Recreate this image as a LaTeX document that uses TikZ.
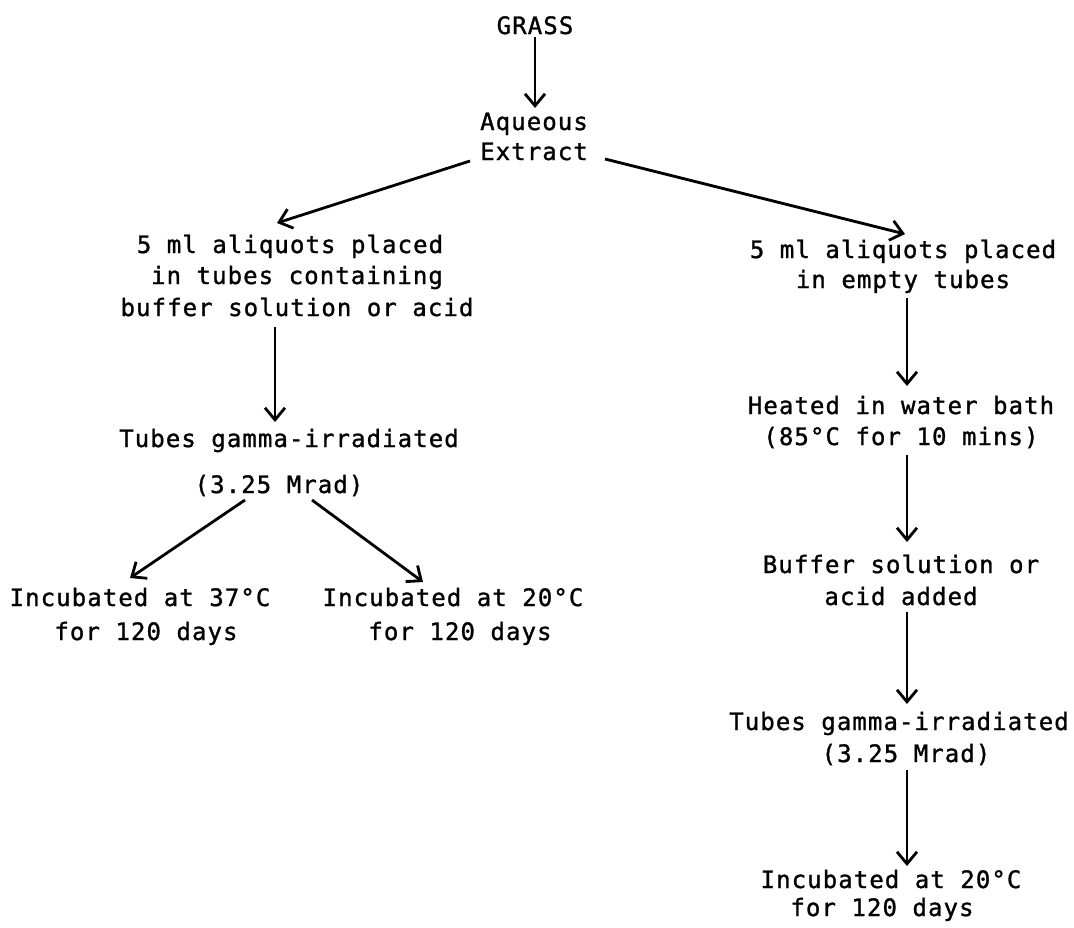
\documentclass[tikz,border=0pt]{standalone}
\usepackage{fontspec}
\newfontfamily\tw{DejaVu Sans Mono}[LetterSpace=4.5,FakeBold=1.2]
\usetikzlibrary{arrows.meta,calc}
\newcommand\tb[1]{\begin{tabular}[t]{@{}c@{}}#1\end{tabular}}
\begin{document}
\begin{tikzpicture}[x=1pt,y=-1pt,
  lbl/.style={anchor=base,inner sep=0pt,font=\tw\fontsize{24}{31}\selectfont},
  arr/.style={-{Straight Barb[length=12pt,width=20pt]},line width=2.8pt}]
\useasboundingbox[fill=white] (0,0) rectangle (1074,927);

\node[lbl] (grass) at (535,34) {\tb{GRASS}};
\node[lbl] (aq) at (534,130) {\tb{Aqueous\\[-1pt]Extract}};
\node[lbl] (L1) at (297,253) {\tb{5 ml aliquots placed\hspace*{14pt}\\in tubes containing\\[1pt]buffer solution or acid}};
\node[lbl] (R1) at (903,258) {\tb{5 ml aliquots placed\\[-1pt]in empty tubes}};
\node[lbl] (L2) at (289,447) {\tb{Tubes gamma-irradiated\\[15pt](3.25 Mrad)\hspace*{20pt}}};
\node[lbl] (L3) at (140,606) {\tb{Incubated at 37°C\\[3pt]\hspace*{12pt}for 120 days}};
\node[lbl] (L4) at (453,606) {\tb{Incubated at 20°C\\[3pt]\hspace*{14pt}for 120 days}};
\node[lbl] (R2) at (901,414) {\tb{Heated in water bath\\(85°C for 10 mins)}};
\node[lbl] (R3) at (901,573) {\tb{Buffer solution or\\[1pt]acid added}};
\node[lbl] (R4) at (899,730) {\tb{Tubes gamma-irradiated\\[1pt]\hspace*{14pt}(3.25 Mrad)}};
\node[lbl] (R5) at (891,888) {\tb{Incubated at 20°C\\[-3pt]for 120 days\hspace*{18pt}}};

\draw[arr] ($(grass.base)+(0,3)$) -- ($(aq.base)+(1,-22)$);
\draw[arr] ($(aq.base)+(-64,31)$) -- ($(L1.base)+(-20,-30)$);
\draw[arr] ($(aq.base)+(71,29)$) -- ($(R1.base)+(2,-24)$);
\draw[arr] ($(L1.base)+(-22,74)$) -- ($(L2.base)+(-14,-25)$);
\draw[arr] ($(L2.base)+(-44,53)$) -- ($(L3.base)+(-10,-28)$);
\draw[arr] ($(L2.base)+(23,53)$) -- ($(L4.base)+(-30,-24)$);
\draw[arr] ($(R1.base)+(4,40)$) -- ($(R2.base)+(6,-28)$);
\draw[arr] ($(R2.base)+(6,41)$) -- ($(R3.base)+(6,-31)$);
\draw[arr] ($(R3.base)+(6,39)$) -- ($(R4.base)+(8,-26)$);
\draw[arr] ($(R4.base)+(8,40)$) -- ($(R5.base)+(16,-22)$);
\end{tikzpicture}
\end{document}
